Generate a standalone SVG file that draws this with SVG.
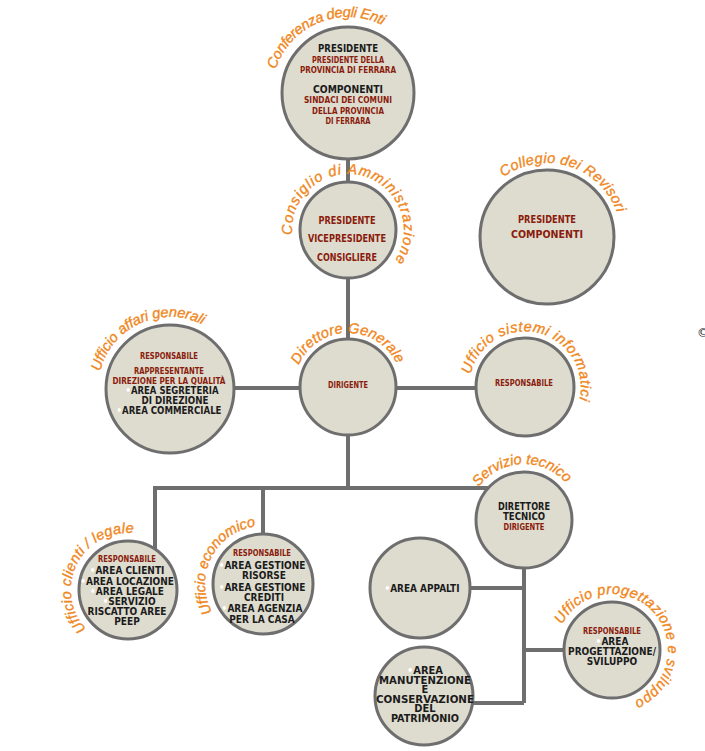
<svg xmlns="http://www.w3.org/2000/svg" width="705" height="751" viewBox="0 0 705 751">
<style>
.c{fill:#dedbcf;stroke:#6e6e6e;stroke-width:3}
.ln{fill:none;stroke:#6e6e6e;stroke-width:4}
.lb{font-family:"Liberation Sans",Arial,sans-serif;font-style:italic;font-size:14.5px;fill:#f0871c;stroke:#f0871c;stroke-width:0.35}
.t{font-family:"DejaVu Sans Condensed","DejaVu Sans",sans-serif;font-stretch:condensed;font-weight:bold;text-anchor:middle}
.k{fill:#1b1b1b;font-size:10px}
.r{fill:#8a1c0c;font-size:8.5px}
.rb{fill:#8a1c0c;font-size:11px}
.kb{fill:#1b1b1b;font-size:11px}
.w{fill:#ffffff}
</style>
<defs>
<path id="a1" d="M275.7,69.5 A76,76 0 0 1 396.9,34.8"/>
<path id="a2" d="M292.2,234.9 A56,56 0 1 1 387.6,269.6"/>
<path id="a3" d="M503.5,177.1 A74,74 0 0 1 619.9,224.2"/>
<path id="a4" d="M100.1,371.6 A72,72 0 0 1 216.3,333.8"/>
<path id="a5" d="M298.7,365.0 A54,54 0 0 1 400.2,373.0"/>
<path id="a6" d="M470.4,374.4 A56,56 0 1 1 575.8,410.7"/>
<path id="a7" d="M86.3,628.9 A57,57 0 0 1 142.8,534.9"/>
<path id="a8" d="M212.3,612.1 A58,58 0 0 1 268.1,526.2"/>
<path id="a9" d="M478.7,487.1 A56,56 0 0 1 572.5,492.0"/>
<path id="a10" d="M562.1,624.6 A56,56 0 1 1 621.7,705.1"/>
</defs>
<g id="connectors">
<path class="ln" d="M348,93 V488"/>
<path class="ln" d="M170,388 H525"/>
<path class="ln" d="M155,580 V488 H524 V703"/>
<path class="ln" d="M263,488 V580"/>
<path class="ln" d="M420,588 H524"/>
<path class="ln" d="M524,650 H612"/>
<path class="ln" d="M424,703 H524"/>
</g>
<g id="conferenza">
<circle class="c" cx="348" cy="93" r="66"/>
<text class="lb"><textPath href="#a1" textLength="131">Conferenza degli Enti</textPath></text>
<text class="t k" x="348" y="52" style="font-size:10.5px" textLength="60" lengthAdjust="spacingAndGlyphs">PRESIDENTE</text>
<text class="t r" x="348" y="63" textLength="72" lengthAdjust="spacingAndGlyphs">PRESIDENTE DELLA</text>
<text class="t r" x="348" y="73" textLength="96" lengthAdjust="spacingAndGlyphs">PROVINCIA DI FERRARA</text>
<text class="t k" x="348" y="93" style="font-size:10.5px" textLength="70" lengthAdjust="spacingAndGlyphs">COMPONENTI</text>
<text class="t r" x="348" y="103" textLength="88" lengthAdjust="spacingAndGlyphs">SINDACI DEI COMUNI</text>
<text class="t r" x="348" y="113.5" textLength="72" lengthAdjust="spacingAndGlyphs">DELLA PROVINCIA</text>
<text class="t r" x="348" y="124" textLength="45" lengthAdjust="spacingAndGlyphs">DI FERRARA</text>
</g>
<g id="consiglio">
<circle class="c" cx="348" cy="230" r="48"/>
<text class="lb"><textPath href="#a2" textLength="213">Consiglio di Amministrazione</textPath></text>
<text class="t rb" x="347" y="224" textLength="57" lengthAdjust="spacingAndGlyphs">PRESIDENTE</text>
<text class="t rb" x="347" y="242" textLength="78" lengthAdjust="spacingAndGlyphs">VICEPRESIDENTE</text>
<text class="t rb" x="347" y="261" textLength="60" lengthAdjust="spacingAndGlyphs">CONSIGLIERE</text>
</g>
<g id="collegio">
<circle class="c" cx="547" cy="237" r="67"/>
<text class="lb"><textPath href="#a3" textLength="138">Collegio dei Revisori</textPath></text>
<text class="t rb" x="547" y="223" textLength="58" lengthAdjust="spacingAndGlyphs">PRESIDENTE</text>
<text class="t rb" x="547" y="238" textLength="72" lengthAdjust="spacingAndGlyphs">COMPONENTI</text>
</g>
<g id="affari">
<circle class="c" cx="170" cy="389" r="64"/>
<text class="lb"><textPath href="#a4" textLength="129">Ufficio affari generali</textPath></text>
<text class="t r" x="169" y="359" textLength="58" lengthAdjust="spacingAndGlyphs">RESPONSABILE</text>
<text class="t r" x="169" y="374" textLength="70" lengthAdjust="spacingAndGlyphs">RAPPRESENTANTE</text>
<text class="t r" x="169" y="383.5" textLength="113" lengthAdjust="spacingAndGlyphs">DIREZIONE PER LA QUALITÀ</text>
<text class="t k" x="172" y="394" textLength="93" lengthAdjust="spacingAndGlyphs"><tspan class="w">•</tspan>AREA SEGRETERIA</text>
<text class="t k" x="175" y="403.5" textLength="67" lengthAdjust="spacingAndGlyphs">DI DIREZIONE</text>
<text class="t k" x="169" y="414" textLength="105" lengthAdjust="spacingAndGlyphs"><tspan class="w">•</tspan>AREA COMMERCIALE</text>
</g>
<g id="direttore">
<circle class="c" cx="348" cy="387" r="48"/>
<text class="lb"><textPath href="#a5" textLength="123">Direttore Generale</textPath></text>
<text class="t r" x="348" y="388" textLength="40" lengthAdjust="spacingAndGlyphs">DIRIGENTE</text>
</g>
<g id="sistemi">
<circle class="c" cx="525" cy="387" r="49"/>
<text class="lb"><textPath href="#a6" textLength="175">Ufficio sistemi informatici</textPath></text>
<text class="t r" x="524" y="386" textLength="58" lengthAdjust="spacingAndGlyphs">RESPONSABILE</text>
</g>
<g id="clienti">
<circle class="c" cx="128" cy="590" r="49"/>
<text class="lb"><textPath href="#a7" textLength="138">Ufficio clienti / legale</textPath></text>
<text class="t r" x="127" y="562" textLength="58" lengthAdjust="spacingAndGlyphs">RESPONSABILE</text>
<text class="t k" x="127" y="574"><tspan class="w">•</tspan>AREA CLIENTI</text>
<text class="t k" x="127" y="585"><tspan class="w">•</tspan>AREA LOCAZIONE</text>
<text class="t k" x="127" y="595"><tspan class="w">•</tspan>AREA LEGALE</text>
<text class="t k" x="129" y="604.5"><tspan class="w">•</tspan>SERVIZIO</text>
<text class="t k" x="127" y="615">RISCATTO AREE</text>
<text class="t k" x="127" y="625">PEEP</text>
</g>
<g id="economico">
<circle class="c" cx="263" cy="584" r="50"/>
<text class="lb"><textPath href="#a8" textLength="113">Ufficio economico</textPath></text>
<text class="t r" x="262" y="556" textLength="58" lengthAdjust="spacingAndGlyphs">RESPONSABILE</text>
<text class="t k" x="262" y="569"><tspan class="w">•</tspan>AREA GESTIONE</text>
<text class="t k" x="264" y="579">RISORSE</text>
<text class="t k" x="262" y="591"><tspan class="w">•</tspan>AREA GESTIONE</text>
<text class="t k" x="264" y="601">CREDITI</text>
<text class="t k" x="262" y="612"><tspan class="w">•</tspan>AREA AGENZIA</text>
<text class="t k" x="262" y="623">PER LA CASA</text>
</g>
<g id="tecnico">
<circle class="c" cx="524" cy="520" r="48"/>
<text class="lb"><textPath href="#a9" textLength="100">Servizio tecnico</textPath></text>
<text class="t kb" x="524" y="510" textLength="52" lengthAdjust="spacingAndGlyphs">DIRETTORE</text>
<text class="t kb" x="524" y="519.5" textLength="42" lengthAdjust="spacingAndGlyphs">TECNICO</text>
<text class="t r" x="524" y="530" textLength="41" lengthAdjust="spacingAndGlyphs">DIRIGENTE</text>
</g>
<g id="appalti">
<circle class="c" cx="420" cy="588" r="50"/>
<text class="t k" x="422" y="592" textLength="75" lengthAdjust="spacingAndGlyphs"><tspan class="w">•</tspan>AREA APPALTI</text>
</g>
<g id="manutenzione">
<circle class="c" cx="424" cy="696" r="49"/>
<text class="t kb" x="425" y="674"><tspan class="w">•</tspan>AREA</text>
<text class="t kb" x="425" y="683.5" textLength="92" lengthAdjust="spacingAndGlyphs">MANUTENZIONE</text>
<text class="t kb" x="425" y="692.5">E</text>
<text class="t kb" x="425" y="703" textLength="98" lengthAdjust="spacingAndGlyphs">CONSERVAZIONE</text>
<text class="t kb" x="425" y="711.5">DEL</text>
<text class="t kb" x="425" y="721.5" textLength="68" lengthAdjust="spacingAndGlyphs">PATRIMONIO</text>
</g>
<g id="progettazione">
<circle class="c" cx="612" cy="650" r="48"/>
<text class="lb"><textPath href="#a10" textLength="214">Ufficio progettazione e sviluppo</textPath></text>
<text class="t r" x="612" y="634" textLength="58" lengthAdjust="spacingAndGlyphs">RESPONSABILE</text>
<text class="t k" x="612" y="645"><tspan class="w">•</tspan>AREA</text>
<text class="t k" x="612" y="655">PROGETTAZIONE/</text>
<text class="t k" x="612" y="665">SVILUPPO</text>
</g>
<text x="697" y="337" style="font-family:'DejaVu Sans',sans-serif;font-size:12px;fill:#222">©</text>
</svg>
